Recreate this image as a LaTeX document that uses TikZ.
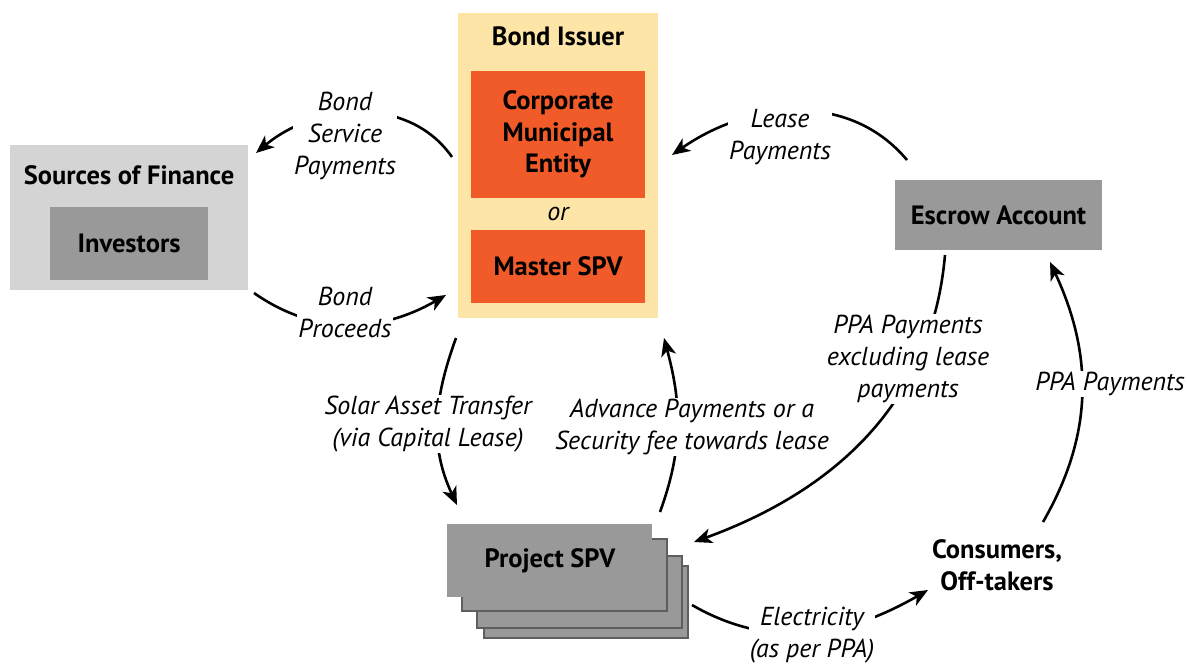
\documentclass[tikz,border=0pt]{standalone}
\usepackage{fontspec}
\setmainfont{PT Sans}
\usetikzlibrary{arrows.meta}
\definecolor{issuerY}{HTML}{FDE5A7}
\definecolor{orangeB}{HTML}{F15A29}
\definecolor{lightG}{HTML}{D4D4D4}
\definecolor{midG}{HTML}{999999}
\definecolor{darkG}{HTML}{5E5E5E}
\tikzset{
  boldtxt/.style={font=\bfseries\fontsize{26.5}{31.5}\selectfont, align=center, text=black},
  lbl/.style={font=\itshape\fontsize{26}{32}\selectfont, align=center, fill=white, inner sep=1pt},
  flow/.style={line width=2.6pt, -{Stealth[length=18pt,width=15pt,inset=5pt]}},
  layer/.style={fill=midG, draw=darkG, line width=2.5pt},
}
\begin{document}
\begin{tikzpicture}[x=1pt,y=1pt]
\useasboundingbox (0,0) rectangle (1187,-665);
% Sources of Finance
\node[fill=lightG, minimum width=238pt, minimum height=145pt, anchor=north west] (sources) at (10,-145) {};
\node[boldtxt] (sourcesT) at (129,-175) {Sources of Finance};
\node[fill=midG, minimum width=158pt, minimum height=73pt, boldtxt] (investors) at (129,-243) {Investors};
% Bond Issuer
\node[fill=issuerY, minimum width=200pt, minimum height=305pt, anchor=north west] (issuer) at (458,-13) {};
\node[boldtxt] (issuerT) at (558,-36) {Bond Issuer};
\node[fill=orangeB, minimum width=174pt, minimum height=127pt, boldtxt] (corp) at (558,-134.5) {Corporate\\Municipal\\Entity};
\node[font=\itshape\fontsize{26}{32}\selectfont] (or) at (558,-214) {or};
\node[fill=orangeB, minimum width=174pt, minimum height=73pt, boldtxt] (master) at (558,-266.5) {Master SPV};
% Escrow
\node[fill=midG, minimum width=207pt, minimum height=70pt, boldtxt] (escrow) at (998.5,-215) {Escrow Account};
% Project SPV stack
\draw[layer] (484,-566) rectangle (688,-638);
\draw[layer] (477,-556) rectangle (682,-628);
\draw[layer] (462,-539) rectangle (667,-611);
\node[fill=midG, minimum width=205pt, minimum height=73pt, anchor=north west] (spv) at (447,-524) {};
\node[boldtxt] (spvT) at (550,-561) {Project SPV};
% Consumers
\node[boldtxt] (consumers) at (997,-565) {Consumers,\\Off-takers};
% coordinates for connector ends
\coordinate (a1) at (452,-157); \coordinate (b1) at (256,-153);
\coordinate (a2) at (254,-293); \coordinate (b2) at (446,-295);
\coordinate (a3) at (907,-160); \coordinate (b3) at (672,-155);
\coordinate (a4) at (456,-338); \coordinate (b4) at (457,-505);
\coordinate (a5) at (660,-512); \coordinate (b5) at (664,-338);
\coordinate (a6) at (945,-255); \coordinate (b6) at (694,-542);
\coordinate (a7) at (1043,-522); \coordinate (b7) at (1050,-262);
\coordinate (a8) at (692,-605); \coordinate (b8) at (928,-590);
% connectors
\draw[flow] (a1) to[out=125,in=40] (b1);
\draw[flow] (a2) to[out=-35,in=-150] (b2);
\draw[flow] (a3) to[out=130,in=35] (b3);
\draw[flow] (a4) to[out=-110,in=115] (b4);
\draw[flow] (a5) to[out=70,in=-75] (b5);
\draw[flow] (a6) to[out=-95,in=20] (b6);
\draw[flow] (a7) to[out=60,in=-65] (b7);
\draw[flow] (a8) to[out=-30,in=-150] (b8);
% labels
\node[lbl] (l1) at (345,-136) {Bond\\Service\\Payments};
\node[lbl] (l2) at (345,-312) {Bond\\Proceeds};
\node[lbl] (l3) at (780,-137) {Lease\\Payments};
\node[lbl] (l4) at (428,-424) {Solar Asset Transfer\\(via Capital Lease)};
\node[lbl] (l5) at (692,-427) {Advance Payments or a\\Security fee towards lease};
\node[lbl] (l6) at (908,-359) {PPA Payments\\excluding lease\\payments};
\node[lbl] (l7) at (1110,-384) {PPA Payments};
\node[lbl] (l8) at (812,-635) {Electricity\\(as per PPA)};
\end{tikzpicture}
\end{document}
